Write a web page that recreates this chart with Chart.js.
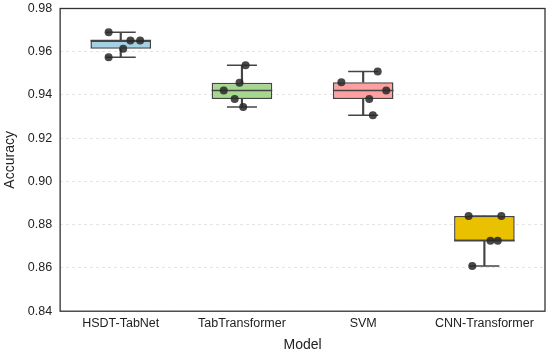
<!DOCTYPE html>
<html>
<head>
<meta charset="utf-8">
<script src="https://cdn.jsdelivr.net/npm/chart.js@4.4.0/dist/chart.umd.min.js"></script>
<style>
  html, body { margin: 0; padding: 0; background: #fff; }
  #wrap { width: 550px; height: 355px; }
</style>
</head>
<body>
<div id="wrap"><canvas id="box-chart"></canvas></div>
<script>
// models on the x axis
var models = ["HSDT-TabNet", "TabTransformer", "SVM", "CNN-Transformer"];

// accuracy of each run
var hsdtRuns = [0.9690, 0.9652, 0.9652, 0.9614, 0.9575];
var tabtRuns = [0.9537, 0.9457, 0.9421, 0.9381, 0.9344];
var svmRuns  = [0.9509, 0.9459, 0.9421, 0.9381, 0.9306];
var cnnRuns  = [0.8840, 0.8840, 0.8726, 0.8726, 0.8609];

// horizontal jitter of each dot (in category units), as in the picture
var hsdtJitter = [-0.10, 0.08, 0.16, 0.02, -0.10];
var tabtJitter = [0.03, -0.02, -0.15, -0.06, 0.01];
var svmJitter  = [0.12, -0.18, 0.19, 0.05, 0.08];
var cnnJitter  = [-0.13, 0.14, 0.05, 0.11, -0.10];

// y axis ticks
var yTicks = [0.84, 0.86, 0.88, 0.90, 0.92, 0.94, 0.96, 0.98];

var allRuns = [hsdtRuns, tabtRuns, svmRuns, cnnRuns];
var allJitter = [hsdtJitter, tabtJitter, svmJitter, cnnJitter];
var boxColors = ["#a5cfe2", "#a6d78e", "#ffa0a0", "#e9c100"];
var edge = "#444444";

// linear percentile like numpy
function pct(arr, p){
  var s = arr.slice().sort(function(a, b){ return a - b; });
  var pos = (s.length - 1) * p;
  var lo = Math.floor(pos), hi = Math.ceil(pos);
  return s[lo] + (s[hi] - s[lo]) * (pos - lo);
}

var stats = allRuns.map(function(r){
  var q1 = pct(r, 0.25), q3 = pct(r, 0.75), iqr = q3 - q1;
  var inside = r.filter(function(v){ return v >= q1 - 1.5 * iqr && v <= q3 + 1.5 * iqr; });
  return { q1: q1, med: pct(r, 0.5), q3: q3,
           lo: Math.min.apply(null, inside), hi: Math.max.apply(null, inside) };
});

var dots = [];
allRuns.forEach(function(r, i){
  r.forEach(function(v, j){ dots.push({ x: i + allJitter[i][j], y: v }); });
});

var frame = {
  id: "frame",
  afterDraw: function(chart){
    var a = chart.chartArea, ctx = chart.ctx;
    ctx.save();
    ctx.strokeStyle = "#333";
    ctx.lineWidth = 1.3;
    ctx.strokeRect(a.left, a.top, a.right - a.left, a.bottom - a.top);
    ctx.restore();
  }
};

var font = { family: "Liberation Sans", size: 12.5 };

new Chart(document.getElementById("box-chart"), {
  type: "bar",
  data: {
    datasets: [
      {
        type: "scatter", order: 0,
        data: dots,
        pointRadius: 4, pointHoverRadius: 4,
        backgroundColor: "rgba(40,40,40,0.85)", borderWidth: 0
      },
      {
        type: "scatter", order: 1,
        data: stats.map(function(s, i){ return { x: i, y: s.med }; }),
        pointStyle: "line", pointRadius: 30.3, pointHoverRadius: 30.3,
        borderColor: edge, borderWidth: 1.5
      },
      {
        type: "scatter", order: 2,
        data: stats.map(function(s, i){ return { x: i, y: s.lo }; })
          .concat(stats.map(function(s, i){ return { x: i, y: s.hi }; })),
        pointStyle: "line", pointRadius: 15, pointHoverRadius: 15,
        borderColor: edge, borderWidth: 1.5
      },
      {
        order: 3, grouped: false,
        data: stats.map(function(s, i){ return { x: i, y: [s.q1, s.q3] }; }),
        backgroundColor: boxColors, borderColor: edge, borderWidth: 1.5,
        borderSkipped: false, barPercentage: 0.5, categoryPercentage: 1.0
      },
      {
        order: 4, grouped: false,
        data: stats.map(function(s, i){ return { x: i, y: [s.lo, s.q1] }; }),
        backgroundColor: edge, borderWidth: 0, barThickness: 1.5
      },
      {
        order: 5, grouped: false,
        data: stats.map(function(s, i){ return { x: i, y: [s.q3, s.hi] }; }),
        backgroundColor: edge, borderWidth: 0, barThickness: 1.5
      }
    ]
  },
  options: {
    responsive: true,
    maintainAspectRatio: false,
    animation: false,
    layout: { autoPadding: false, padding: { top: 0, right: 5, left: 2, bottom: 1 } },
    plugins: { legend: { display: false }, tooltip: { enabled: false } },
    scales: {
      x: {
        type: "linear", min: -0.5, max: 3.5, offset: false,
        afterBuildTicks: function(axis){ axis.ticks = models.map(function(m, i){ return { value: i }; }); },
        grid: { display: false, drawTicks: false },
        border: { display: false },
        ticks: {
          color: "#222", font: font, padding: 5, maxRotation: 0, autoSkip: false,
          callback: function(v){ return models[v]; }
        },
        title: { display: true, text: "Model", color: "#222",
                 font: { family: "Liberation Sans", size: 14 }, padding: { top: 1, bottom: 0 } }
      },
      y: {
        min: 0.84, max: 0.98,
        afterBuildTicks: function(axis){ axis.ticks = yTicks.map(function(v){ return { value: v }; }); },
        grid: { color: "#dddddd", lineWidth: 0.8, drawTicks: true, tickLength: 7, tickColor: "rgba(0,0,0,0)" },
        border: { display: false, dash: [3, 3] },
        ticks: {
          color: "#222", font: font, padding: 1,
          callback: function(v){ return v.toFixed(2); }
        },
        title: { display: true, text: "Accuracy", color: "#222",
                 font: { family: "Liberation Sans", size: 14 }, padding: { top: 0, bottom: 8 } }
      }
    }
  },
  plugins: [frame]
});
</script>
</body>
</html>
